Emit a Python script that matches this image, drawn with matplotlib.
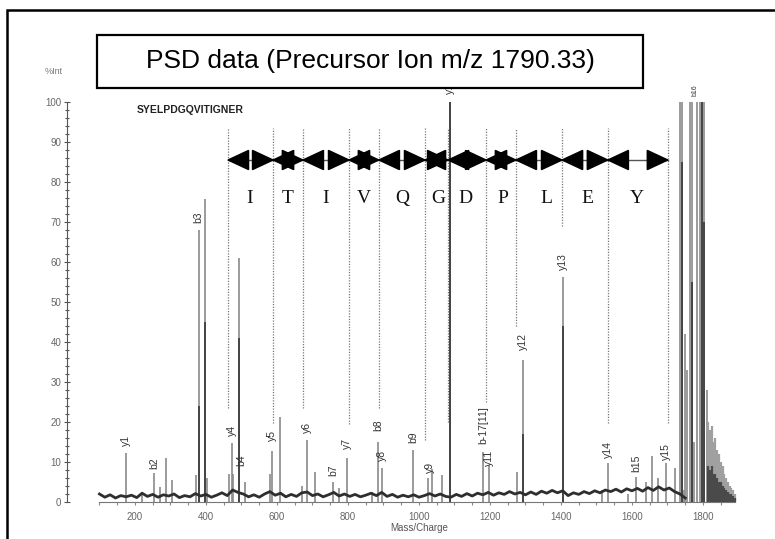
import numpy as np
import matplotlib
matplotlib.use("Agg")
import matplotlib.pyplot as plt
from matplotlib.patches import Rectangle, Polygon
import matplotlib.ticker as ticker

plt.rcParams["font.family"] = ["Liberation Sans", "DejaVu Sans"]

# spectrum peaks (m/z, %Int)
peak_mz = [175, 220, 254, 270, 287, 304, 372, 380, 397, 402, 465, 473, 477, 493,
           510, 580, 586, 608, 670, 685, 707, 758, 775, 798, 867, 885, 897, 984,
           1025, 1037, 1064, 1087, 1180, 1197, 1276, 1293, 1406, 1515, 1532, 1589,
           1611, 1639, 1656, 1673, 1696, 1721, 1746,
           1735, 1741, 1748, 1755, 1763, 1769, 1776, 1784, 1792, 1798, 1804, 1811]
peak_int = [12.3, 2.5, 7.2, 3.7, 11, 5.5, 6.7, 68, 75.7, 6, 7, 14.7, 7, 61,
            5, 7, 12.7, 21.2, 4, 15.5, 7.5, 5, 3.5, 11, 2.5, 15, 8.5, 13,
            6, 8.2, 6.7, 100, 12.5, 9.2, 7.5, 35.5, 56.2, 3, 9.7, 2,
            6.2, 5, 11.5, 6, 9.7, 8.5, 3,
            100, 100, 42, 33, 100, 100, 15, 100, 100, 100, 100, 28]

# darker inner part of the strongest peaks
core_mz = [380, 397, 493, 1087, 1293, 1406, 1741, 1769, 1798, 1804]
core_int = [24, 45, 41, 100, 17, 44, 85, 55, 100, 70]

# baseline noise, read every 15 m/z from 100 to 1750
base_int = [2.0, 1.2, 1.8, 1.0, 1.6, 1.3, 1.7, 1.1, 2.2, 1.4, 1.9, 1.2, 1.8, 1.5, 2.0, 1.1,
            1.6, 1.3, 2.1, 1.5, 1.9,
            1.2, 1.7, 2.3, 1.6, 3.0, 2.4, 2.0, 1.3, 1.8, 1.2, 2.0, 2.6, 1.7, 2.2, 1.3,
            1.9, 1.4, 2.3, 2.5, 1.6,
            2.0, 1.3, 1.8, 2.4, 1.5, 2.0, 1.4, 1.9, 1.3, 1.7, 2.2, 1.6, 2.4, 1.4, 1.9,
            1.2, 1.7, 1.3, 1.8, 1.2,
            1.6, 2.1, 1.5, 2.0, 1.4, 1.2, 1.9, 1.4, 2.1, 1.5, 2.2, 1.8, 2.4, 1.7, 2.3,
            1.9, 2.6, 2.0, 2.4, 1.8,
            2.5, 1.9, 2.7, 2.2, 2.9, 2.3, 2.8, 1.6, 2.3, 1.9, 2.6, 2.1, 2.8, 2.3, 3.0,
            2.6, 3.2, 2.5, 3.3, 2.8,
            3.4, 2.7, 3.6, 2.9, 3.8, 3.0, 3.5, 2.6, 2.0, 1.0]
base_mz = np.arange(100, 100 + 15 * len(base_int), 15)

# decaying tail after the precursor
tail_mz = [1815, 1820, 1825, 1830, 1835, 1840, 1845, 1850, 1855, 1860, 1865, 1870,
           1875, 1880, 1885, 1890]
tail_int = [20, 18, 19, 15, 16, 13, 12, 10, 9, 7, 6, 5, 4, 3.5, 3, 2]
tail_dark = [9, 8, 9, 7, 7, 6, 5, 5, 4, 3.5, 3, 2.5, 2, 2, 1.5, 1]

# fragment labels
label_text = ["y1", "b2", "b3", "y4", "b4", "y5", "y6", "b7", "y7", "b8", "y8", "b9",
              "y9", "y10", "b-17[11]", "y11", "y12", "y13", "y14", "b15", "y15", "b16"]
label_mz = [175, 254, 378, 473, 499, 586, 685, 758, 798, 885, 897, 984,
            1030, 1087, 1180, 1197, 1293, 1406, 1532, 1611, 1696, 1778]
label_y = [15.5, 9.7, 71.2, 18, 10.5, 16.7, 18.7, 8, 14.7, 19.2, 11.7, 16.2,
           8.7, 104, 19.2, 11, 40, 60, 13, 9.7, 12.5, 103]

# sequence ladder
ladder_mz = [462, 589, 673, 803, 887, 1017, 1082, 1189, 1273, 1403, 1532, 1701]
ladder_bottom = [23.5, 19.7, 23.5, 19.5, 23.5, 15.5, 20, 25, 44, 69, 19.7, 19.7]
residues = ["I", "T", "I", "V", "Q", "G", "D", "P", "L", "E", "Y"]
residue_mz = [524, 631, 738, 845, 952, 1054, 1130, 1237, 1358, 1473, 1614]

W, H = 775, 539
fig = plt.figure(figsize=(W / 100, H / 100), dpi=100)
ax = fig.add_axes([67 / W, (H - 502) / H, (738.5 - 67) / W, 400 / H])
ax.set_xlim(8.5, 1900)
ax.set_ylim(0, 100)

stem = "#8a8a8a"
dark = "#2e2e2e"

# ladder dotted lines
ax.vlines(ladder_mz, ladder_bottom, 93.5, colors="#777777", linestyles=(0, (1, 1.2)),
          linewidth=0.9, zorder=1)

# spectrum
ax.vlines(peak_mz, 0, peak_int, colors=stem, linewidth=1.2, zorder=2)
ax.vlines(core_mz, 0, core_int, colors=dark, linewidth=1.1, zorder=3)
ax.vlines(tail_mz, 0, tail_int, colors="#a0a0a0", linewidth=1.6, zorder=2)
ax.vlines(tail_mz, 0, tail_dark, colors="#4a4a4a", linewidth=1.6, zorder=3)
ax.plot(base_mz, base_int, color=dark, linewidth=2.0, zorder=4)

for txt, x, y in zip(label_text, label_mz, label_y):
    fs = 5 if txt == "b16" else 7.5
    ax.text(x, y, txt, rotation=90, ha="center", va="center", fontsize=fs,
            color="#333333", zorder=5)

# double-headed arrows between ladder lines
ay = 85.5
hl, hw = 58, 2.4
for a, b in zip(ladder_mz[:-1], ladder_mz[1:]):
    ax.plot([a, b], [ay, ay], color="#555555", linewidth=1, zorder=5)
    ax.add_patch(Polygon([[a, ay], [a + hl, ay + hw], [a + hl, ay - hw]],
                         closed=True, color="black", zorder=6))
    ax.add_patch(Polygon([[b, ay], [b - hl, ay + hw], [b - hl, ay - hw]],
                         closed=True, color="black", zorder=6))

for r, x in zip(residues, residue_mz):
    ax.text(x, 75.8, r, ha="center", va="center", fontsize=14,
            family="Liberation Serif", color="#111111")

ax.text(206, 98, "SYELPDGQVITIGNER", ha="left", va="center", fontsize=7.5,
        fontweight="bold", color="#222222")

# axes styling
for s in ["top", "right"]:
    ax.spines[s].set_visible(False)
ax.spines["left"].set_color("#555555")
ax.spines["bottom"].set_color("#777777")
ax.spines["bottom"].set_bounds(100, 1890)
ax.yaxis.set_major_locator(ticker.MultipleLocator(10))
ax.yaxis.set_minor_locator(ticker.MultipleLocator(2))
ax.xaxis.set_major_locator(ticker.FixedLocator([200, 400, 600, 800, 1000, 1200, 1400, 1600, 1800]))
ax.xaxis.set_minor_locator(ticker.FixedLocator(np.arange(100, 1900, 50)))
ax.tick_params(axis="y", which="major", direction="inout", length=4, width=0.8,
               colors="#555555", labelsize=7, labelcolor="#666666", pad=2)
ax.tick_params(axis="y", which="minor", direction="inout", length=2.5, width=0.8,
               colors="#555555")
ax.tick_params(axis="x", which="both", direction="out", length=2, width=0.8,
               colors="#888888", labelsize=7, labelcolor="#666666", pad=5)
ax.text(1000, -6.5, "Mass/Charge", ha="center", va="center", fontsize=7,
        color="#555555", clip_on=False)
fig.text(54 / W, (H - 72) / H, "%Int", ha="center", va="center", fontsize=6.5,
         color="#777777")

# title box and outer frame
fig.add_artist(Rectangle((97 / W, (H - 88) / H), (643 - 97) / W, 53 / H,
                         transform=fig.transFigure, facecolor="white",
                         edgecolor="black", linewidth=1.6, zorder=10))
fig.text(370 / W, (H - 61) / H, "PSD data (Precursor Ion m/z 1790.33)", ha="center",
         va="center", fontsize=19, color="black", zorder=11)
fig.add_artist(Rectangle((7 / W, -0.1), 1.2, (H - 10) / H + 0.1,
                         transform=fig.transFigure, fill=False,
                         edgecolor="black", linewidth=1.8, zorder=10))

fig.savefig("out.png", dpi=100)
